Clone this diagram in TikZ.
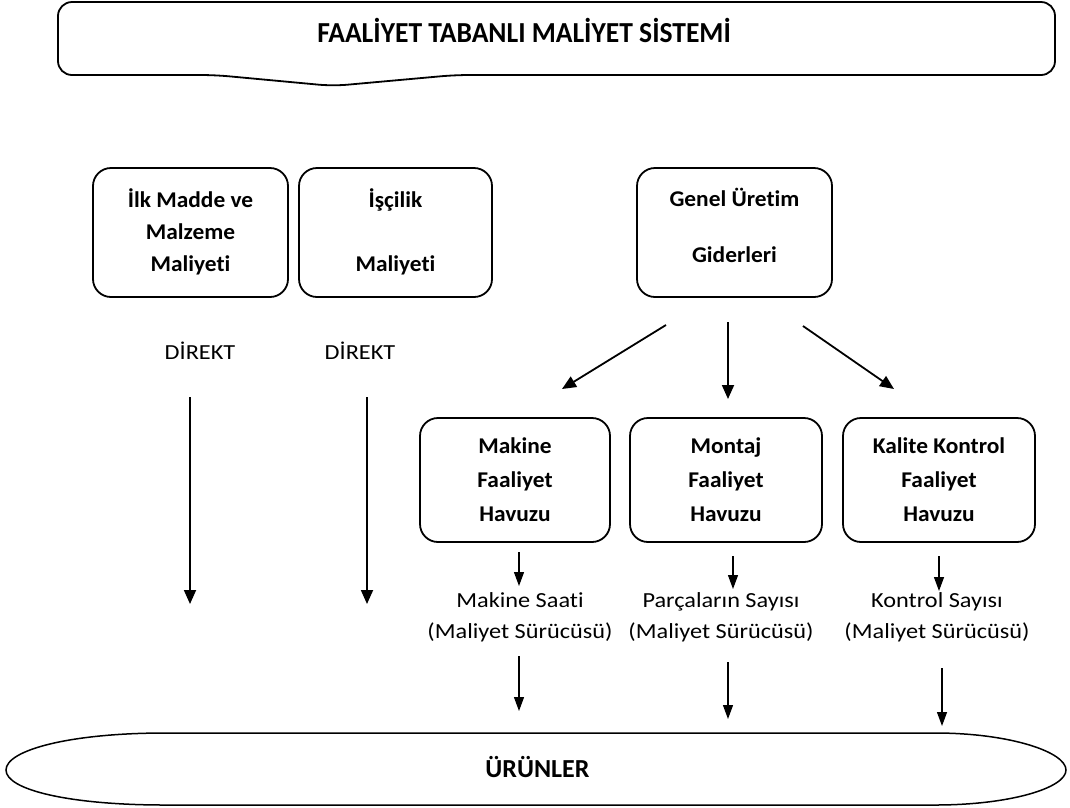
\documentclass[tikz,border=0pt]{standalone}
\usepackage{fontspec}
\setmainfont{Carlito}[FakeStretch=1.13, Ligatures=CommonOff]
\newfontfamily\titlefont{Carlito}[FakeStretch=0.95, Ligatures=CommonOff]
\newfontfamily\headfont{Carlito}[Ligatures=CommonOff]
\newfontfamily\boxfont{Carlito}[FakeStretch=1.04, Ligatures=CommonOff]
\usetikzlibrary{arrows.meta}
% stacked lines: baseline of the node is the first line
\newcommand{\lines}[1]{\begin{tabular}[t]{@{}c@{}}#1\end{tabular}}
\begin{document}
\begin{tikzpicture}[x=1pt,y=-1pt,
  frame/.style={draw, line width=1.8pt, rounded corners=18pt, inner sep=0pt},
  boxtext/.style={anchor=base, inner sep=0pt, font=\boxfont\bfseries\fontsize{22.5}{#1}\selectfont},
  boxtext/.default=32,
  plain/.style={anchor=base, inner sep=0pt, font=\fontsize{21.5}{31.6}\selectfont},
  heavyarrow/.style={line width=1.8pt, -{Triangle[length=14pt,width=12pt]}},
  lightarrow/.style={line width=1.2pt, -{Triangle[length=14pt,width=10pt]}},
]
\useasboundingbox (0,0) rectangle (1070,807);

% title banner with a pointer at the bottom
\draw[line width=1.8pt, rounded corners=14pt] (333,86) -- (215,75) -- (58,75) -- (58,2)
  -- (1055,2) -- (1055,75) -- (455,75) -- cycle;
\node[anchor=base, inner sep=0pt, font=\titlefont\bfseries\fontsize{29}{32}\selectfont]
  (title) at (524,42) {FAALİYET TABANLI MALİYET SİSTEMİ};

% cost groups
\node[frame, minimum width=195pt, minimum height=129pt] (ilk) at (190.5,232.5) {};
\node[boxtext] (ilktext) at (190.5,207) {\lines{İlk Madde ve\\ Malzeme\\ Maliyeti}};
\node[frame, minimum width=193pt, minimum height=129pt] (iscilik) at (395.5,232.5) {};
\node[boxtext] (isciliktext) at (395.5,207) {\lines{İşçilik\\[32pt] Maliyeti}};
\node[frame, minimum width=195pt, minimum height=129pt] (genel) at (734.5,232.5) {};
\node[boxtext] (geneltext) at (734.5,206) {\lines{Genel Üretim\\[24pt] Giderleri}};

% direct costs
\node[plain] (direkt1) at (200,359) {DİREKT};
\node[plain] (direkt2) at (360,359) {DİREKT};
\coordinate (d1a) at (190,397); \coordinate (d1b) at (190,604);
\coordinate (d2a) at (367,397); \coordinate (d2b) at (367,604);
\draw[heavyarrow] (d1a) -- (d1b);
\draw[heavyarrow] (d2a) -- (d2b);

% activity pools
\node[frame, minimum width=190pt, minimum height=124pt] (makine) at (515,480) {};
\node[boxtext=34] (makinetext) at (515,453) {\lines{Makine\\ Faaliyet\\ Havuzu}};
\node[frame, minimum width=192pt, minimum height=124pt] (montaj) at (726,480) {};
\node[boxtext=34] (montajtext) at (726,453) {\lines{Montaj\\ Faaliyet\\ Havuzu}};
\node[frame, minimum width=192pt, minimum height=124pt] (kalite) at (939,480) {};
\node[boxtext=34] (kalitetext) at (939,453) {\lines{Kalite Kontrol\\ Faaliyet\\ Havuzu}};

\coordinate (g1) at (666,325); \coordinate (p1) at (562,389);
\coordinate (g2) at (728,322); \coordinate (p2) at (728,399);
\coordinate (g3) at (803,326); \coordinate (p3) at (894,389);
\draw[heavyarrow] (g1) -- (p1);
\draw[heavyarrow] (g2) -- (p2);
\draw[heavyarrow] (g3) -- (p3);

% cost drivers
\node[plain] (drv1) at (520,607) {\lines{Makine Saati\\ (Maliyet Sürücüsü)}};
\node[plain] (drv2) at (721,607) {\lines{Parçaların Sayısı\\ (Maliyet Sürücüsü)}};
\node[plain] (drv3) at (937,607) {\lines{Kontrol Sayısı\\ (Maliyet Sürücüsü)}};

\coordinate (m1) at (519,552); \coordinate (m2) at (519,586);
\coordinate (n1) at (733,556); \coordinate (n2) at (733,589);
\coordinate (k1) at (939,556); \coordinate (k2) at (939,591);
\draw[lightarrow] (m1) -- (m2);
\draw[lightarrow] (n1) -- (n2);
\draw[lightarrow] (k1) -- (k2);

\coordinate (m3) at (519,656); \coordinate (m4) at (519,711);
\coordinate (n3) at (728,662); \coordinate (n4) at (728,719);
\coordinate (k3) at (942,668); \coordinate (k4) at (942,726);
\draw[lightarrow] (m3) -- (m4);
\draw[lightarrow] (n3) -- (n4);
\draw[lightarrow] (k3) -- (k4);

% products
\draw[line width=1.5pt] (165,733) -- (935,733)
  .. controls (1010,733) and (1066,752) .. (1066,770)
  .. controls (1066,788) and (1010,805) .. (935,805)
  -- (165,805)
  .. controls (70,805) and (6,790) .. (6,770)
  .. controls (6,750) and (70,733) .. (165,733) -- cycle;
\node[anchor=base, inner sep=0pt, font=\headfont\bfseries\fontsize{26}{30}\selectfont]
  (urun) at (537.5,777) {ÜRÜNLER};
\end{tikzpicture}
\end{document}
